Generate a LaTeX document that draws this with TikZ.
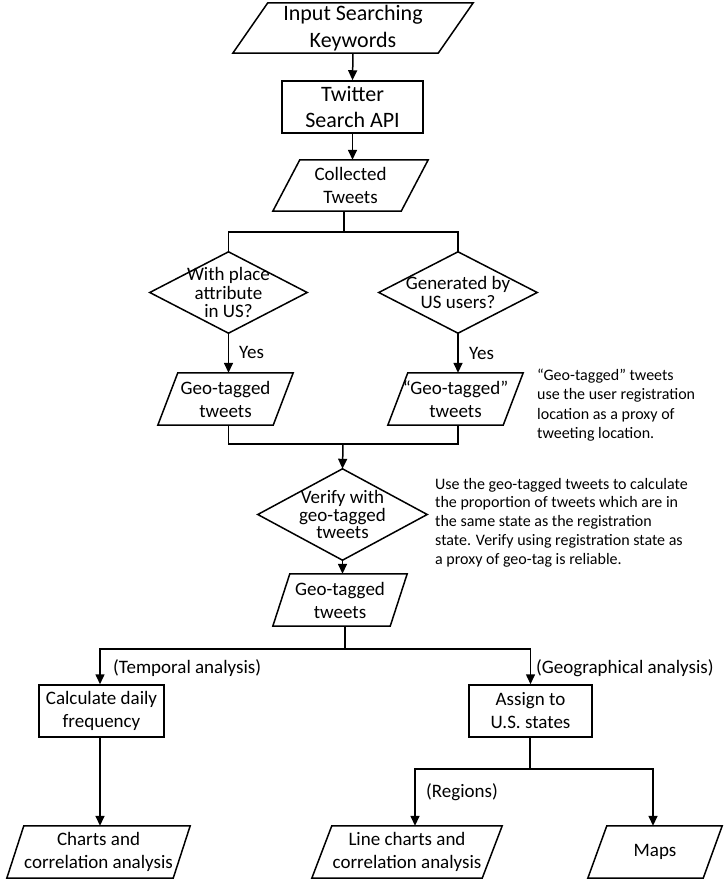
\documentclass[tikz,border=0pt]{standalone}
\usepackage{fontspec}
\setmainfont{Carlito}
\usetikzlibrary{arrows.meta}
\newcommand\pgout[2]{\draw[conn] ([xshift=#2]#1.north west) -- (#1.north east) -- ([xshift=-#2]#1.south east) -- (#1.south west) -- cycle;}
\newcommand\dmout[1]{\draw[conn] (#1.north) -- (#1.east) -- (#1.south) -- (#1.west) -- cycle;}
\begin{document}
\begin{tikzpicture}[x=1pt,y=-1pt,
  base/.style={inner sep=0pt, align=center, font=\fontsize{19}{23}\selectfont},
  big/.style={base, font=\fontsize{22}{26.5}\selectfont},
  rbox/.style={base, draw, line width=1.5pt},
  dm/.style={base, font=\fontsize{19}{18.5}\selectfont},
  lbl/.style={inner sep=0pt, anchor=west, font=\fontsize{19}{23}\selectfont},
  note/.style={inner sep=0pt, anchor=west, align=left, font=\fontsize{16}{19.3}\selectfont},
  conn/.style={line width=1.5pt},
  arr/.style={conn, -{Triangle[length=10pt,width=9pt]}}]
\useasboundingbox (0,0) rectangle (725,882);
% nodes
\node[big, minimum width=240, minimum height=50] (in) at (353,28) {Input Searching\\Keywords};
\pgout{in}{35}
\node[big, draw, line width=1.5pt, minimum width=141, minimum height=52] (tw) at (352.5,107) {Twitter\\Search API};
\node[base, minimum width=155, minimum height=51] (col) at (350.5,185.5) {Collected\\Tweets};
\pgout{col}{27}
\node[dm, minimum width=157, minimum height=81] (d1) at (228.5,292.5) {With place\\attribute\\in US?};
\dmout{d1}
\node[dm, minimum width=158, minimum height=81] (d2) at (458,292.5) {Generated by\\US users?};
\dmout{d2}
\node[lbl] (yes1) at (239,352) {Yes};
\node[lbl] (yes2) at (469,353) {Yes};
\node[base, minimum width=135, minimum height=52] (g1) at (225.5,399) {Geo-tagged\\tweets};
\pgout{g1}{20}
\node[base, minimum width=135, minimum height=52] (g2) at (455.5,399) {“Geo-tagged”\\tweets};
\pgout{g2}{20}
\node[note] (n1) at (537,405) {“Geo-tagged” tweets\\use the user registration\\location as a proxy of\\tweeting location.};
\node[dm, font=\fontsize{19}{17.5}\selectfont, minimum width=169, minimum height=91] (d3) at (342.5,514.5) {Verify with\\geo-tagged\\tweets};
\dmout{d3}
\node[note, font=\fontsize{16}{18.8}\selectfont] (n2) at (435,522.5) {Use the geo-tagged tweets to calculate\\the proportion of tweets which are in\\the same state as the registration\\state. Verify using registration state as\\a proxy of geo-tag is reliable.};
\node[base, minimum width=134, minimum height=52] (g3) at (340,600) {Geo-tagged\\tweets};
\pgout{g3}{17}
\node[lbl] (ltemp) at (113,668) {(Temporal analysis)};
\node[lbl] (lgeo) at (536,668) {(Geographical analysis)};
\node[rbox, minimum width=125, minimum height=52] (calc) at (101.5,711) {Calculate daily\\frequency};
\node[rbox, minimum width=123, minimum height=52] (asg) at (530.5,711) {Assign to\\U.S. states};
\node[lbl] (lreg) at (426,792) {(Regions)};
\node[base, minimum width=183, minimum height=52] (charts) at (98.5,852) {Charts and\\correlation analysis};
\pgout{charts}{17}
\node[base, minimum width=190, minimum height=52] (lc) at (407,852) {Line charts and\\correlation analysis};
\pgout{lc}{20}
\node[base, minimum width=134, minimum height=52] (maps) at (655,852) {Maps};
\pgout{maps}{19}
% connectors
\draw[arr] (in.south) -- (tw.north);
\draw[arr] (tw.south) -- (tw.south |- col.north);
\coordinate (s1) at (344,232);
\draw[conn] (col.south -| s1) -- (s1);
\draw[conn] (d1.north) |- (s1) -| (d2.north);
\draw[arr] (d1.south) -- (d1.south |- g1.north);
\draw[arr] (d2.south) -- (d2.south |- g2.north);
\coordinate (m1) at (343,444);
\draw[conn] (g1.south -| d1.south) |- (m1) -| (g2.south -| d2.south);
\draw[arr] (m1) -- (d3.north);
\draw[arr] (d3.south) -- (d3.south |- g3.north);
\coordinate (s2) at (345,649);
\draw[conn] (g3.south -| s2) -- (s2);
\draw[arr] (s2) -| ([xshift=-1.5]calc.north);
\draw[arr] (s2) -| (asg.north);
\draw[arr] ([xshift=-1.5]calc.south) -- ([xshift=-1.5]calc.south |- charts.north);
\coordinate (s3) at (530,769);
\draw[conn] (asg.south -| s3) -- (s3);
\draw[arr] (s3) -| ([xshift=8]lc.north);
\draw[arr] (s3) -| ([xshift=-2]maps.north);
\end{tikzpicture}
\end{document}
